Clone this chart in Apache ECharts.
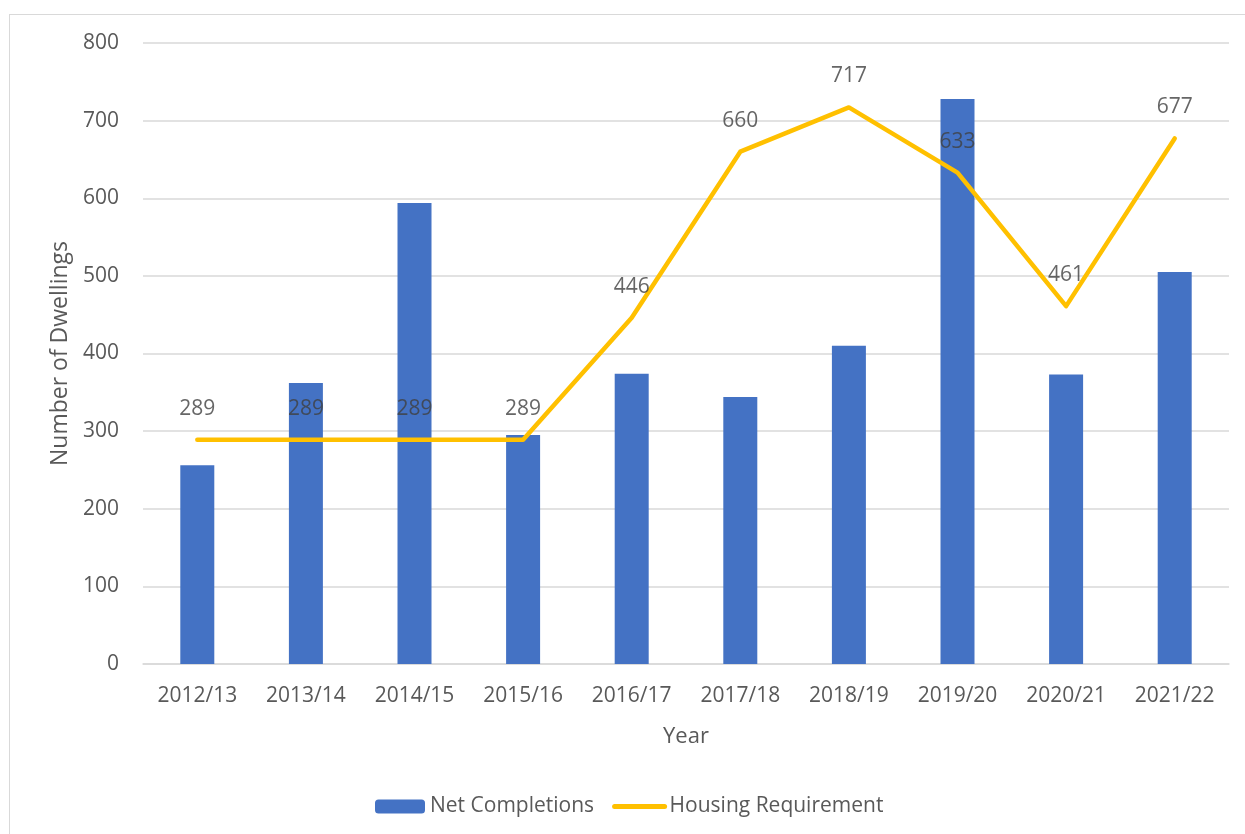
<!DOCTYPE html>
<html>
<head>
<meta charset="utf-8">
<script src="https://cdn.jsdelivr.net/npm/echarts@6/dist/echarts.min.js"></script>
<style>
  html, body { margin: 0; padding: 0; background: #fff; }
  #frame { position: absolute; left: 9px; top: 14px; width: 1300px; height: 900px; border: 1px solid #d9d9d9; box-sizing: border-box; }
  #chart { position: absolute; left: 0; top: 0; width: 1245px; height: 834px; }
</style>
</head>
<body>
<div id="frame"></div>
<div id="chart"></div>
<script>
// data
const years = ['2012/13', '2013/14', '2014/15', '2015/16', '2016/17', '2017/18', '2018/19', '2019/20', '2020/21', '2021/22'];
const netCompletions = [256, 362, 594, 295, 374, 344, 410, 728, 373, 505];
const housingRequirement = [289, 289, 289, 289, 446, 660, 717, 633, 461, 677];
const yTicks = { min: 0, max: 800, interval: 100 };

const font = 'Open Sans';
const grey = '#595959';
const chart = echarts.init(document.getElementById('chart'));

chart.setOption({
  animation: false,
  textStyle: { fontFamily: font },
  grid: { left: 143, right: 16, top: 43, bottom: 170 },
  legend: {
    bottom: 12,
    left: 370,
    itemWidth: 50,
    itemHeight: 14,
    itemGap: 18,
    textStyle: { fontFamily: font, fontSize: 21, color: grey },
    data: [
      'Net Completions',
      // plain line key, no marker
      { name: 'Housing Requirement', itemStyle: { color: 'rgba(0,0,0,0)', borderWidth: 0 }, lineStyle: { width: 5 } }
    ]
  },
  xAxis: {
    type: 'category',
    data: years,
    name: 'Year',
    nameLocation: 'middle',
    nameGap: 62,
    nameTextStyle: { fontFamily: font, fontSize: 22, color: grey },
    axisLine: { lineStyle: { color: '#d9d9d9', width: 1.5 } },
    axisTick: { show: false },
    axisLabel: { fontFamily: font, fontSize: 21, color: grey, margin: 22 }
  },
  yAxis: {
    type: 'value',
    min: yTicks.min,
    max: yTicks.max,
    interval: yTicks.interval,
    name: 'Number of Dwellings',
    nameLocation: 'middle',
    nameGap: 70,
    nameTextStyle: { fontFamily: font, fontSize: 23, color: grey },
    axisLine: { show: false },
    axisTick: { show: false },
    axisLabel: { fontFamily: font, fontSize: 21, color: grey, margin: 24 },
    splitLine: { lineStyle: { color: '#d9d9d9', width: 1.5 } }
  },
  series: [
    {
      name: 'Net Completions',
      type: 'bar',
      data: netCompletions,
      barWidth: 34,
      itemStyle: { color: '#4472c4' }
    },
    {
      name: 'Housing Requirement',
      type: 'line',
      data: housingRequirement,
      symbol: 'none',
      lineStyle: { color: '#ffc000', width: 4.5, cap: 'round', join: 'round' },
      itemStyle: { color: '#ffc000' },
      z: 3
    },
    {
      // value labels for the requirement line
      name: 'Requirement labels',
      type: 'scatter',
      data: housingRequirement,
      symbol: 'circle',
      symbolSize: 1,
      itemStyle: { color: 'rgba(0,0,0,0)' },
      label: {
        show: true,
        position: 'top',
        distance: 20,
        fontFamily: font,
        fontSize: 21,
        color: '#404040'
      },
      silent: true,
      z: 4
    }
  ]
});
</script>
</body>
</html>
